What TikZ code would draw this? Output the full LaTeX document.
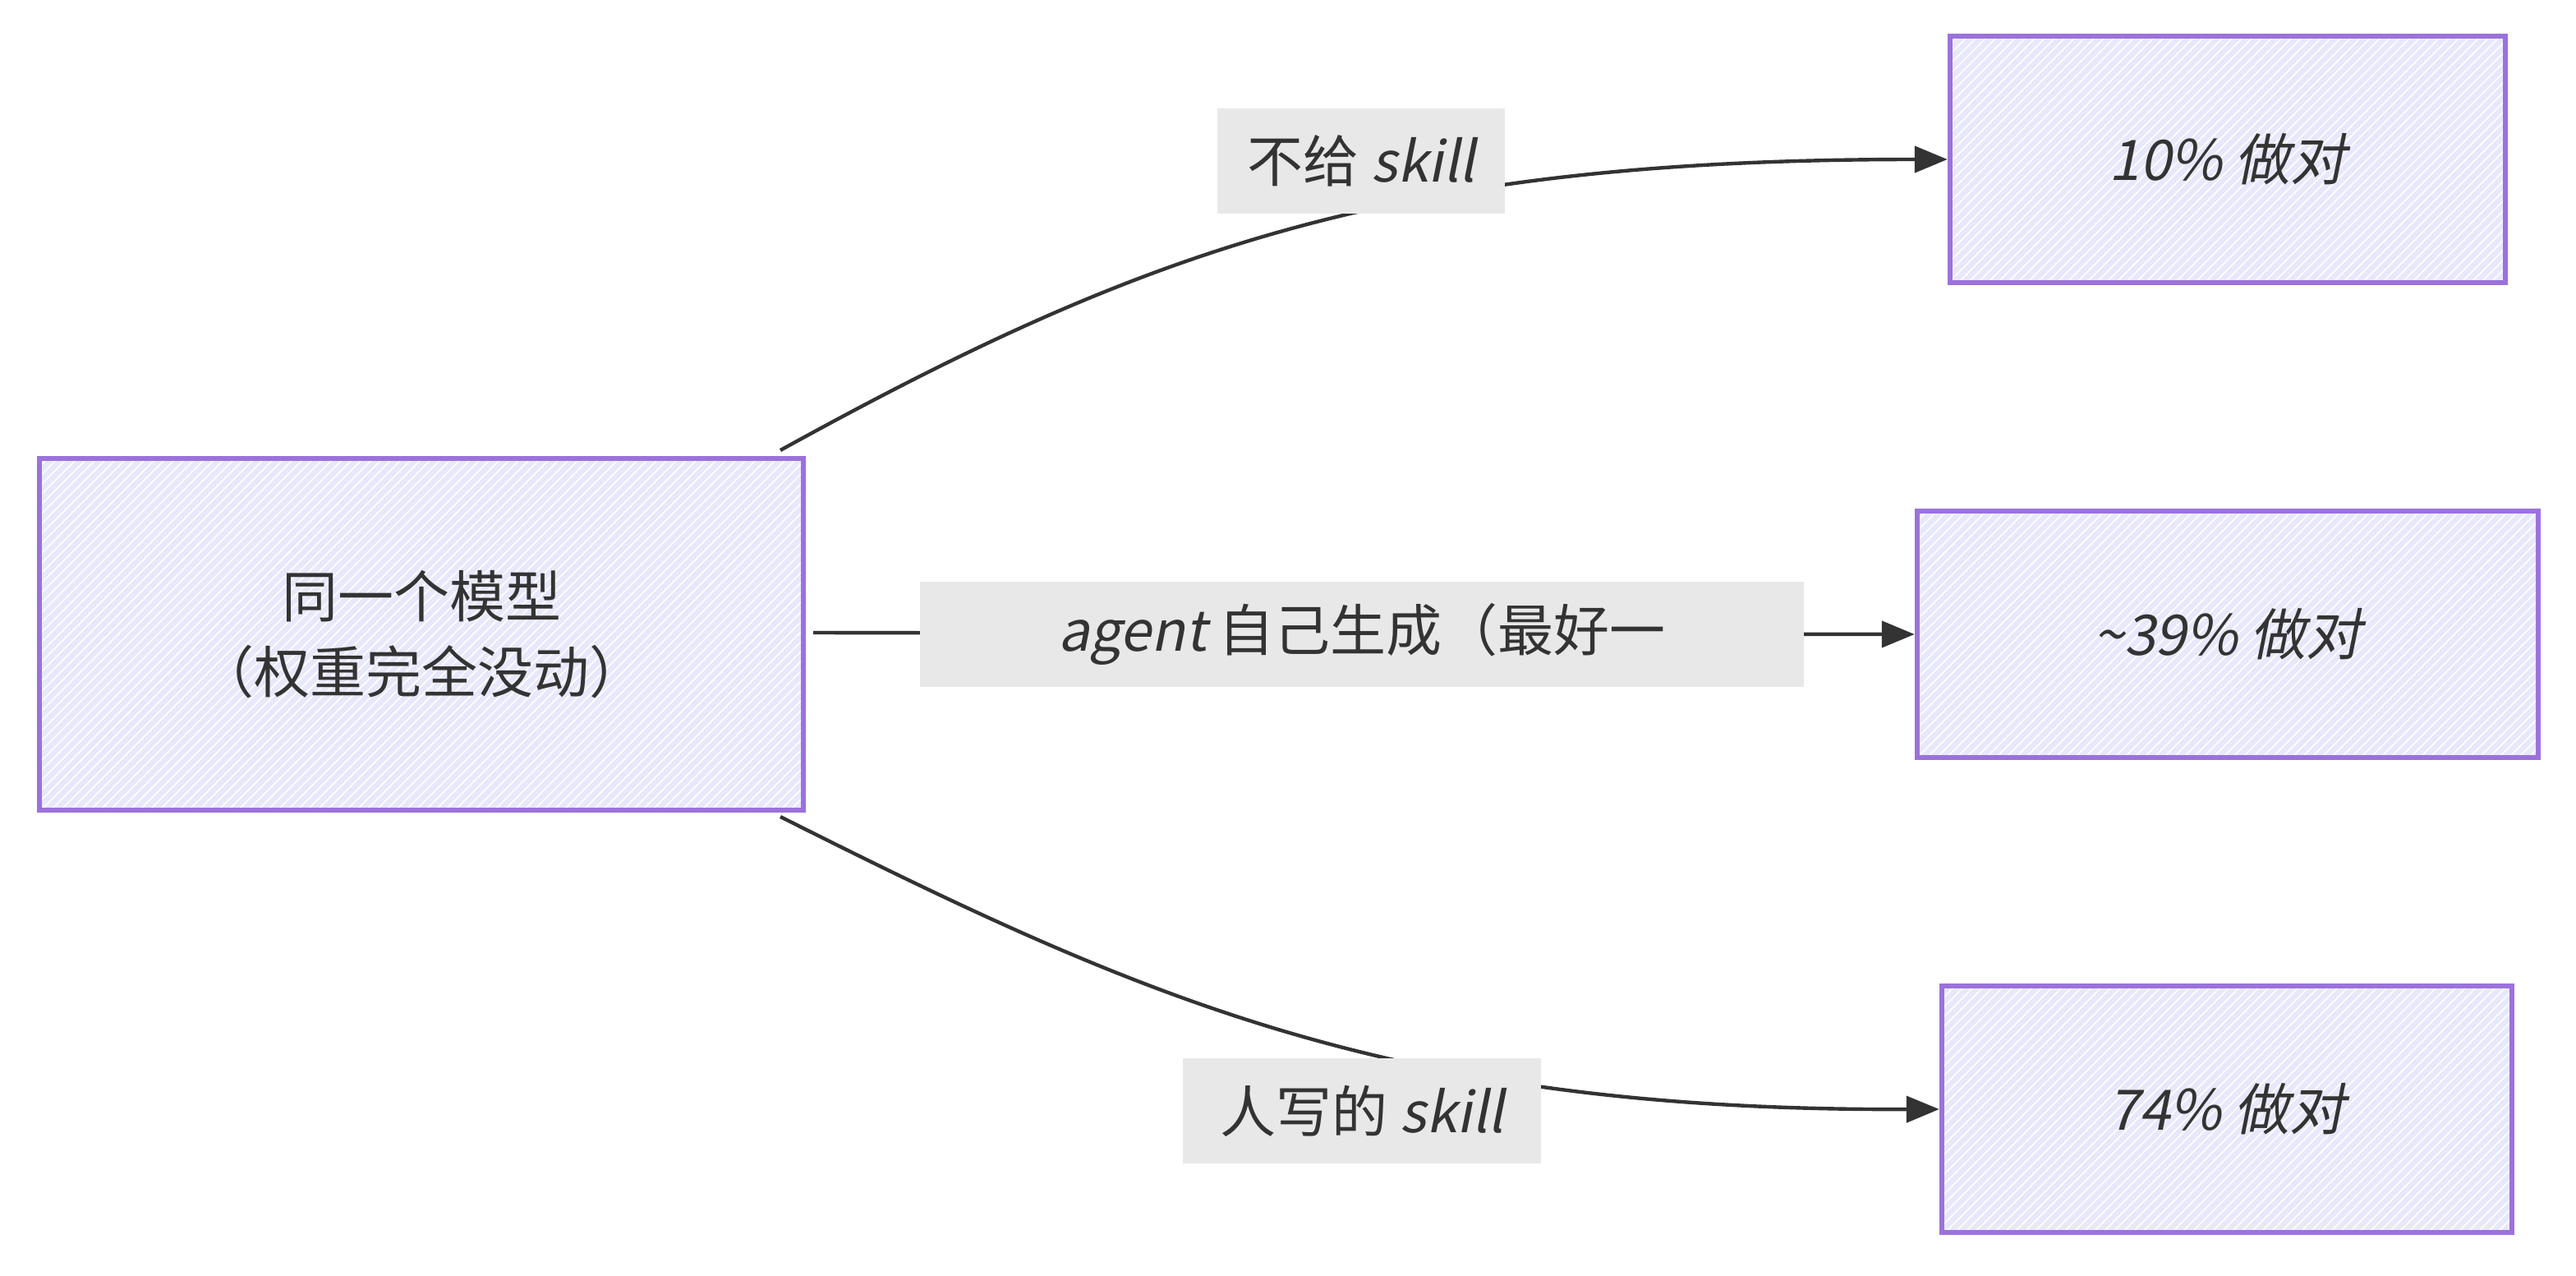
\documentclass[tikz,border=0pt]{standalone}
\usepackage{fontspec}
\setmainfont{Noto Sans CJK SC}[ItalicFont=Noto Sans CJK SC,ItalicFeatures={FakeSlant=0.2}]
\usetikzlibrary{patterns,arrows.meta}
\definecolor{bfill}{HTML}{E8E8FC}
\definecolor{bdraw}{HTML}{9B72DB}
\definecolor{lbg}{HTML}{E8E8E8}
\definecolor{ink}{HTML}{333333}
\tikzset{
 box/.style={draw=bdraw,line width=1.6pt,preaction={fill=bfill},pattern=north east lines,pattern color=white,inner sep=0pt,font=\fontsize{17}{23}\selectfont,text=ink,align=center},
 lab/.style={fill=lbg,inner sep=0pt,font=\fontsize{17}{20}\selectfont,text=ink},
 edge/.style={draw=ink,line width=1.1pt,-{Triangle[length=10pt,width=8pt]}}
}
\begin{document}
\begin{tikzpicture}[x=0.5pt,y=-0.5pt]
\useasboundingbox (0,0) rectangle (1568,776);
\node[box,minimum width=232.5pt,minimum height=107pt] (m) at (256.5,386) {同一个模型\\（权重完全没动）};
\node[box,minimum width=169pt,minimum height=75pt] (a) at (1356,97) {\itshape 10\% 做对};
\node[box,minimum width=189pt,minimum height=75pt] (b) at (1356,386) {\itshape \textasciitilde39\% 做对};
\node[box,minimum width=173.5pt,minimum height=75pt] (c) at (1355.5,675) {\itshape 74\% 做对};
\coordinate (s1) at (475,274);
\coordinate (s2) at (495,385);
\coordinate (s3) at (475,497);
\draw[edge] (s1) .. controls (700,150) and (850,97) .. (a.west);
\draw[edge] (s2) -- (b.west);
\draw[edge] (s3) .. controls (700,610) and (850,676) .. (c.west);
\node[lab,minimum width=87.5pt,minimum height=32pt] (l1) at (828.5,98) {不给 \itshape skill};
\node[lab,minimum width=269pt,minimum height=32pt] (l2) at (829,386) {\itshape agent\upshape{} 自己生成（最好一};
\node[lab,minimum width=109pt,minimum height=32pt] (l3) at (829,676) {人写的 \itshape skill};
\end{tikzpicture}
\end{document}
